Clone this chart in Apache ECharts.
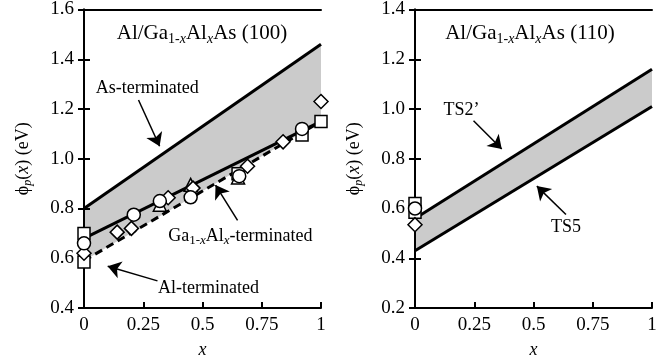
<!DOCTYPE html>
<html>
<head>
<meta charset="utf-8">
<script src="https://cdn.jsdelivr.net/npm/echarts@6/dist/echarts.min.js"></script>
<style>
  html, body { margin: 0; padding: 0; background: #fff; }
  #chart { width: 670px; height: 364px; }
</style>
</head>
<body>
<div id="chart"></div>
<script>
// x range of the model lines
const xEnds = [0, 1];

// (100) panel: model lines
const asTerm = [0.80, 1.46];
const gaAlTerm = [0.68, 1.15];
const alTerm = [0.59, 1.15];

// (100) panel: measured points
const sq100X = [0, 0, 0.65, 0.92, 1.0];
const sq100Y = [0.70, 0.585, 0.94, 1.095, 1.15];
const tr100X = [0.32, 0.45, 0.65];
const tr100Y = [0.815, 0.895, 0.925];
const di100X = [0, 0.14, 0.20, 0.355, 0.46, 0.69, 0.84, 1.0];
const di100Y = [0.62, 0.705, 0.72, 0.843, 0.882, 0.97, 1.068, 1.23];
const ci100X = [0, 0.21, 0.32, 0.45, 0.655, 0.92];
const ci100Y = [0.66, 0.775, 0.83, 0.845, 0.93, 1.12];

// (110) panel: model lines
const ts2 = [0.56, 1.16];
const ts5 = [0.43, 1.01];

// (110) panel: measured points
const sq110X = [0, 0];
const sq110Y = [0.62, 0.585];
const ci110X = [0];
const ci110Y = [0.60];
const di110X = [0];
const di110Y = [0.535];

// tick labels
const xTicks = [0, 0.25, 0.5, 0.75, 1];
const yTicks100 = [0.4, 0.6, 0.8, 1.0, 1.2, 1.4, 1.6];
const yTicks110 = [0.2, 0.4, 0.6, 0.8, 1.0, 1.2, 1.4];

const FONT = 'Liberation Serif';
const pairs = (xs, ys) => xs.map((x, i) => [x, ys[i]]);

const titleRich = {
    n: { fontFamily: FONT, fontSize: 21, lineHeight: 26, color: '#000' },
    s: { fontFamily: FONT, fontSize: 14, lineHeight: 14, verticalAlign: 'bottom', color: '#000' },
    si: { fontFamily: FONT, fontSize: 14, lineHeight: 14, verticalAlign: 'bottom', fontStyle: 'italic', color: '#000' }
};
const noteRich = {
    n: { fontFamily: FONT, fontSize: 18, lineHeight: 23, color: '#000' },
    s: { fontFamily: FONT, fontSize: 13, lineHeight: 13, verticalAlign: 'bottom', color: '#000' },
    si: { fontFamily: FONT, fontSize: 13, lineHeight: 13, verticalAlign: 'bottom', fontStyle: 'italic', color: '#000' }
};
const nameRich = {
    n: { fontFamily: FONT, fontSize: 18, lineHeight: 22, color: '#000' },
    i: { fontFamily: FONT, fontSize: 18, lineHeight: 22, fontStyle: 'italic', color: '#000' },
    si: { fontFamily: FONT, fontSize: 12, lineHeight: 12, verticalAlign: 'bottom', fontStyle: 'italic', color: '#000' }
};

function xAxisPair(grid) {
    return [
        {
            type: 'value', gridIndex: grid, position: 'bottom', min: 0, max: 1, interval: 0.25, z: 5,
            axisLine: { lineStyle: { color: '#000', width: 2 } },
            axisTick: { inside: true, length: 6, lineStyle: { color: '#000', width: 2 } },
            axisLabel: { fontFamily: FONT, fontSize: 19, color: '#000', margin: 8,
                formatter: v => xTicks.includes(v) ? String(v) : '' },
            splitLine: { show: false },
            name: '{i|x}', nameLocation: 'middle', nameGap: 31,
            nameTextStyle: { rich: nameRich }
        },
        {
            type: 'value', gridIndex: grid, position: 'top', min: 0, max: 1, z: 5,
            axisLine: { lineStyle: { color: '#000', width: 2 } },
            axisTick: { show: false }, axisLabel: { show: false }, splitLine: { show: false }
        }
    ];
}

function yAxisPair(grid, ticks) {
    const lo = ticks[0], hi = ticks[ticks.length - 1];
    return [
        {
            type: 'value', gridIndex: grid, position: 'left', min: lo, max: hi, interval: 0.2, z: 5,
            axisLine: { lineStyle: { color: '#000', width: 2 } },
            axisTick: { inside: true, length: 6, lineStyle: { color: '#000', width: 2 } },
            axisLabel: { fontFamily: FONT, fontSize: 19, color: '#000', margin: 10,
                formatter: v => v.toFixed(1) },
            splitLine: { show: false },
            name: '{n|ϕ}{si|p}{n|(}{i|x}{n|) (eV)}', nameLocation: 'middle', nameRotate: 90, nameGap: 50,
            nameTextStyle: { rich: nameRich }
        },
        {
            type: 'value', gridIndex: grid, position: 'right', min: lo, max: hi, interval: 0.2, z: 5,
            axisLine: { lineStyle: { color: '#000', width: 2 } },
            axisTick: { inside: true, length: 6, lineStyle: { color: '#000', width: 2 } },
            axisLabel: { show: false }, splitLine: { show: false }
        }
    ];
}

function lineSeries(xi, yi, ys, dashed) {
    return {
        type: 'line', xAxisIndex: xi, yAxisIndex: yi, data: pairs(xEnds, ys),
        symbol: 'none', z: 3, silent: true,
        lineStyle: { color: '#000', width: 3, type: dashed ? [8, 5] : 'solid' }
    };
}

// shaded band between two model lines, drawn through the axes' own scales
function bandSeries(xi, yi, lower, upper) {
    return {
        type: 'custom', xAxisIndex: xi, yAxisIndex: yi, z: 1, silent: true,
        data: [[xEnds[0], lower[0], upper[0], xEnds[1], lower[1], upper[1]]],
        renderItem: (params, api) => {
            const p = [
                api.coord([api.value(0), api.value(1)]),
                api.coord([api.value(3), api.value(4)]),
                api.coord([api.value(3), api.value(5)]),
                api.coord([api.value(0), api.value(2)])
            ];
            return { type: 'polygon', shape: { points: p }, style: { fill: '#cbcbcb', stroke: null } };
        }
    };
}

function markers(xi, yi, xs, ys, symbol, size) {
    return {
        type: 'scatter', xAxisIndex: xi, yAxisIndex: yi, data: pairs(xs, ys),
        symbol: symbol, symbolSize: size, z: 6, clip: false,
        itemStyle: { color: '#fff', borderColor: '#000', borderWidth: 1.5, opacity: 1 }
    };
}

// arrows and their captions, placed in data coordinates
function notes(xi, yi, arrows, texts) {
    return {
        type: 'line', xAxisIndex: xi, yAxisIndex: yi, data: [], z: 7, silent: true,
        markLine: {
            silent: true, symbol: ['none', 'arrow'], symbolSize: 13,
            label: { show: false },
            lineStyle: { color: '#000', width: 1.5, type: 'solid' },
            data: arrows.map(a => [{ coord: a[0] }, { coord: a[1] }])
        },
        markPoint: {
            silent: true, symbol: 'rect', symbolSize: 1,
            itemStyle: { color: 'rgba(0,0,0,0)' },
            label: { show: true, position: 'inside', rich: noteRich },
            data: texts.map(t => ({ coord: t[0], label: { formatter: t[1] } }))
        }
    };
}

const chart = echarts.init(document.getElementById('chart'));

const option = {
    animation: false,
    backgroundColor: '#fff',
    grid: [
        { left: 84, top: 8, width: 237, height: 304 },
        { left: 415, top: 8, width: 237, height: 304 }
    ],
    xAxis: [...xAxisPair(0), ...xAxisPair(1)],
    yAxis: [...yAxisPair(0, yTicks100), ...yAxisPair(1, yTicks110)],
    graphic: [
        { type: 'text', x: 202, y: 33, z: 10,
          style: { text: '{n|Al/Ga}{s|1-}{si|x}{n|Al}{si|x}{n|As (100)}', rich: titleRich,
                   align: 'center', verticalAlign: 'middle' } },
        { type: 'text', x: 530, y: 33, z: 10,
          style: { text: '{n|Al/Ga}{s|1-}{si|x}{n|Al}{si|x}{n|As (110)}', rich: titleRich,
                   align: 'center', verticalAlign: 'middle' } }
    ],
    series: [
        // (100)
        bandSeries(0, 0, alTerm, asTerm),
        lineSeries(0, 0, asTerm, false),
        lineSeries(0, 0, gaAlTerm, false),
        lineSeries(0, 0, alTerm, true),
        markers(0, 0, sq100X, sq100Y, 'rect', 12),
        markers(0, 0, tr100X, tr100Y, 'triangle', 13),
        markers(0, 0, di100X, di100Y, 'diamond', 14),
        markers(0, 0, ci100X, ci100Y, 'circle', 13),
        notes(0, 0,
            [[[0.23, 1.236], [0.319, 1.05]],
             [[0.648, 0.752], [0.555, 0.894]],
             [[0.31, 0.509], [0.10, 0.568]]],
            [[[0.267, 1.283], '{n|As-terminated}'],
             [[0.66, 0.69], '{n|Ga}{s|1-}{si|x}{n|Al}{si|x}{n|-terminated}'],
             [[0.525, 0.48], '{n|Al-terminated}']]),
        // (110)
        bandSeries(2, 2, ts5, ts2),
        lineSeries(2, 2, ts2, false),
        lineSeries(2, 2, ts5, false),
        markers(2, 2, sq110X, sq110Y, 'rect', 12),
        markers(2, 2, di110X, di110Y, 'diamond', 14),
        markers(2, 2, ci110X, ci110Y, 'circle', 13),
        notes(2, 2,
            [[[0.247, 0.953], [0.366, 0.839]],
             [[0.637, 0.576], [0.514, 0.69]]],
            [[[0.196, 0.996], '{n|TS2’}'],
             [[0.637, 0.525], '{n|TS5}']])
    ]
};

chart.setOption(option);
</script>
</body>
</html>
